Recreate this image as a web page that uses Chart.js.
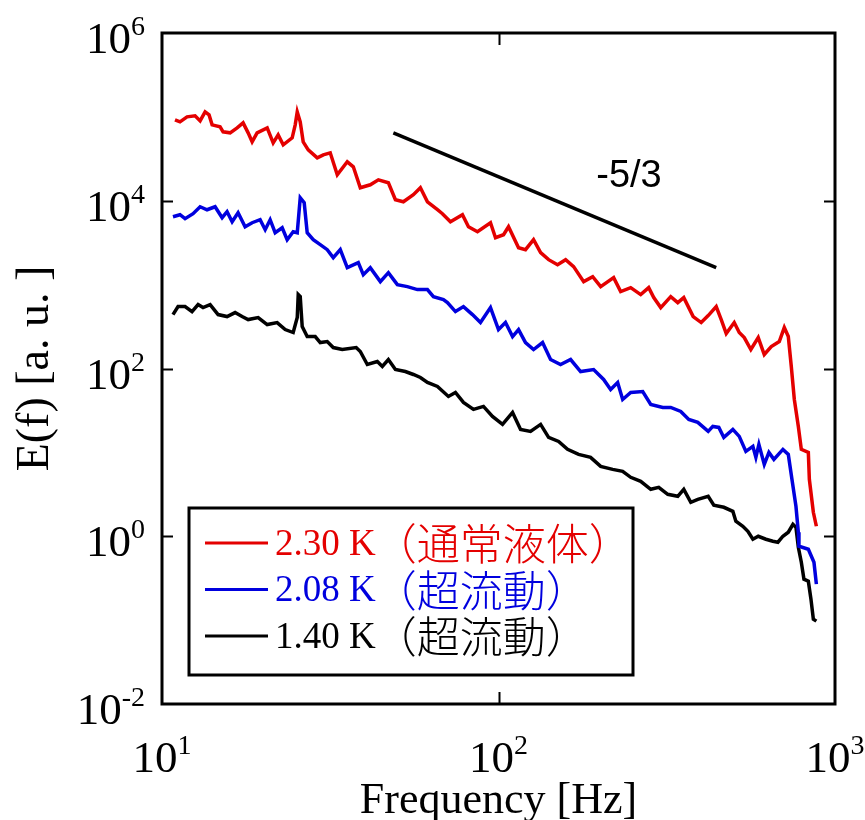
<!DOCTYPE html>
<html>
<head>
<meta charset="utf-8">
<script src="https://cdn.jsdelivr.net/npm/chart.js@4"></script>
<style>
  html, body { margin: 0; padding: 0; background: #fff; }
  #wrap { width: 865px; height: 820px; position: relative; }
</style>
</head>
<body>
<div id="wrap"><canvas id="c" width="865" height="820"></canvas></div>
<script>
// Power spectra E(f) of the velocity signal at three temperatures
const redLabel = '2.30 K（通常液体）';
const redFreq = [10.93, 11.31, 11.87, 12.54, 12.98, 13.43, 13.80, 14.09, 14.88, 15.19, 15.94, 16.72, 17.42, 18.03, 18.53, 19.17, 20.54, 21.40, 22.14, 22.92, 24.37, 24.88, 25.23, 25.75, 26.28, 27.20, 28.93, 30.15, 31.62, 33.18, 35.53, 37.03, 38.84, 41.59, 43.96, 47.07, 49.39, 52.17, 55.85, 58.60, 61.49, 65.86, 68.13, 71.97, 78.14, 81.42, 86.60, 94.67, 97.97, 103.5, 107.1, 114.7, 120.3, 127.1, 133.4, 140.9, 149.8, 158.3, 167.2, 179.1, 190.5, 201.2, 219.9, 230.7, 247.1, 264.6, 279.5, 289.3, 303.5, 325.0, 341.0, 355.3, 378.9, 400.3, 419.9, 443.6, 459.1, 475.1, 501.8, 519.3, 537.5, 562.3, 591.4, 616.3, 646.6, 683.0, 706.8, 726.5, 741.5, 757.1, 778.1, 794.2, 833.2, 839.0, 862.3, 880.3];
const redPower = [92100, 87190, 100000, 102800, 89610, 114700, 105600, 80310, 76020, 66290, 64490, 73970, 84830, 64490, 50400, 64490, 73970, 49030, 61050, 46420, 56230, 80310, 114700, 87190, 50400, 40470, 32500, 35290, 37280, 20390, 29130, 25400, 14280, 15500, 17780, 16380, 10280, 9729, 11790, 14280, 9729, 7813, 7002, 5623, 6813, 4903, 4275, 5471, 3627, 3938, 4903, 2757, 2610, 3433, 2404, 1984, 1730, 1984, 1638, 1086, 1245, 946.6, 1212, 825.4, 921.0, 760.2, 921.0, 700.2, 532.3, 719.7, 610.5, 700.2, 416.0, 352.9, 427.5, 547.1, 383.1, 261.0, 352.9, 268.3, 233.9, 168.3, 233.9, 146.8, 182.7, 209.6, 307.7, 240.4, 105.6, 42.75, 20.39, 10.86, 10.0, 4.771, 1.931, 1.316];

const blueLabel = '2.08 K（超流動）';
const blueFreq = [10.78, 11.31, 11.71, 12.37, 12.98, 13.61, 14.38, 15.09, 15.61, 16.16, 16.83, 17.66, 18.53, 19.57, 20.26, 20.96, 21.69, 22.76, 23.55, 24.54, 25.23, 25.75, 26.46, 27.01, 28.15, 29.53, 30.98, 32.28, 33.87, 35.53, 38.31, 39.65, 41.59, 44.55, 47.07, 50.05, 53.60, 57.40, 61.49, 64.06, 68.60, 70.51, 74.48, 78.68, 83.68, 88.40, 94.67, 100.0, 104.9, 110.1, 114.7, 120.3, 127.1, 135.2, 142.8, 152.9, 163.8, 175.4, 191.7, 205.3, 215.4, 226.0, 233.9, 247.1, 268.3, 283.4, 307.7, 325.0, 348.1, 367.7, 391.1, 419.9, 433.4, 451.6, 467.3, 497.1, 519.3, 543.4, 570.1, 581.9, 594.0, 616.3, 636.2, 658.3, 700.2, 726.5, 744.8, 765.5, 778.1, 781.4, 833.2, 865.9, 880.3];
const bluePower = [6449, 6813, 6105, 7002, 8483, 7813, 8483, 6275, 7397, 5623, 7197, 4903, 5471, 5940, 4516, 5940, 4160, 4771, 3433, 4275, 4160, 10860, 9466, 4160, 3433, 2994, 2610, 2096, 2610, 1593, 1827, 1316, 1593, 1086, 1389, 1000, 946.6, 871.9, 871.9, 719.7, 662.9, 610.5, 477.1, 547.1, 439.4, 352.9, 532.3, 291.3, 352.9, 240.4, 291.3, 203.9, 168.3, 203.9, 128.0, 111.6, 128.0, 92.10, 97.29, 73.97, 56.23, 68.13, 42.75, 51.79, 53.23, 37.28, 34.33, 34.33, 30.77, 24.71, 22.76, 17.78, 20.39, 19.84, 15.08, 18.78, 15.50, 10.28, 11.79, 8.719, 12.45, 7.197, 10.0, 8.254, 10.86, 9.466, 4.771, 2.276, 1.116, 0.7602, 0.7002, 0.4903, 0.2683];

const blackLabel = '1.40 K（超流動）';
const blackFreq = [10.78, 11.16, 11.71, 12.28, 12.80, 13.24, 13.90, 14.68, 15.61, 16.49, 17.30, 18.03, 19.31, 20.54, 21.99, 23.23, 24.54, 25.23, 25.40, 25.75, 26.10, 27.01, 28.53, 29.53, 30.98, 32.28, 34.33, 37.77, 38.84, 40.75, 43.64, 45.16, 47.07, 49.39, 52.87, 55.85, 58.60, 61.49, 65.86, 70.99, 74.48, 78.68, 84.26, 90.23, 95.96, 102.8, 110.1, 116.3, 124.5, 133.4, 140.9, 150.9, 160.4, 173.0, 187.8, 201.2, 218.4, 233.9, 247.1, 264.6, 283.4, 299.4, 318.4, 341.0, 355.3, 372.8, 391.1, 419.9, 436.4, 467.3, 497.1, 507.4, 532.3, 550.9, 570.1, 591.4, 623.2, 653.8, 676.6, 700.2, 726.5, 749.9, 765.5, 778.1, 794.2, 808.6, 833.2, 848.3, 862.3, 880.3];
const blackPower = [439.4, 547.1, 547.1, 477.1, 578.0, 532.3, 578.0, 439.4, 416.0, 464.2, 416.0, 383.1, 404.7, 334.1, 352.9, 291.3, 268.3, 404.7, 760.2, 719.7, 316.2, 240.4, 240.4, 203.9, 209.6, 177.8, 168.3, 177.8, 159.3, 111.6, 121.2, 105.6, 128.0, 97.29, 92.10, 84.83, 78.13, 68.13, 61.05, 46.42, 51.79, 39.38, 32.50, 35.29, 26.83, 21.54, 29.94, 18.78, 17.78, 21.54, 15.08, 13.52, 10.86, 9.466, 8.719, 6.813, 6.275, 5.940, 5.040, 4.516, 3.627, 3.831, 3.162, 2.994, 3.627, 2.540, 2.757, 2.994, 2.339, 2.214, 1.984, 1.508, 1.316, 1.147, 0.9210, 1.000, 0.9210, 0.8719, 0.8483, 1.000, 1.116, 1.389, 1.280, 0.7397, 0.4903, 0.3077, 0.2913, 0.1778, 0.1028, 0.09729];

// Kolmogorov -5/3 guide line
const slopeFreq = [48.70, 443.6];
const slopePower = [64490, 1593];
const slopeText = '-5/3';

// Axis decades
const xTickValues = [10, 100, 1000];
const xTickExponents = ['1', '2', '3'];
const yTickValues = [1e-2, 1, 1e2, 1e4, 1e6];
const yTickExponents = ['-2', '0', '2', '4', '6'];
const xTitle = 'Frequency [Hz]';
const yTitle = 'E(f) [a. u. ]';

const RED = 'rgb(228,0,0)';
const BLUE = 'rgb(0,0,222)';
const BLACK = '#000';
const SERIF = '"Liberation Serif", "Times New Roman", serif';
const CJK = '"Noto Sans CJK JP", sans-serif';

function points(fs, es) { return fs.map((f, i) => ({ x: f, y: es[i] })); }

function series(label, fs, es, color, width) {
  return {
    label, data: points(fs, es), borderColor: color, backgroundColor: color,
    borderWidth: width, pointRadius: 0, tension: 0, fill: false,
    borderJoinStyle: 'miter', borderCapStyle: 'butt'
  };
}

function drawPower(ctx, exp, x, yTick, mode) {
  const baseFont = '45px ' + SERIF;
  const expFont = '28px ' + SERIF;
  ctx.font = baseFont; const bw = ctx.measureText('10').width;
  ctx.font = expFont; const ew = ctx.measureText(exp).width;
  let start, baseY, expY;
  if (mode === 'y') { start = x - bw - ew; baseY = yTick + 20; expY = yTick + 2; }
  else { start = x - (bw + ew) / 2; baseY = yTick; expY = yTick - 18; }
  ctx.textAlign = 'left'; ctx.textBaseline = 'alphabetic';
  ctx.font = baseFont; ctx.fillText('10', start, baseY);
  ctx.font = expFont; ctx.fillText(exp, start + bw, expY);
}

const framePlugin = {
  id: 'frameAndLabels',
  afterDraw(chart) {
    const { ctx, chartArea: a, scales: { x, y } } = chart;
    ctx.save();
    ctx.fillStyle = '#000';
    ctx.strokeStyle = '#000';
    // plot frame
    ctx.lineWidth = 3;
    ctx.strokeRect(a.left, a.top, a.right - a.left, a.bottom - a.top);
    // inward ticks at interior decades
    ctx.lineWidth = 2;
    ctx.beginPath();
    xTickValues.forEach(v => {
      if (v <= x.min || v >= x.max) return;
      const px = Math.round(x.getPixelForValue(v)) + 0.5;
      ctx.moveTo(px, a.bottom); ctx.lineTo(px, a.bottom - 12);
      ctx.moveTo(px, a.top); ctx.lineTo(px, a.top + 12);
    });
    yTickValues.forEach(v => {
      if (v <= y.min || v >= y.max) return;
      const py = Math.round(y.getPixelForValue(v)) + 0.5;
      ctx.moveTo(a.left, py); ctx.lineTo(a.left + 11, py);
      ctx.moveTo(a.right, py); ctx.lineTo(a.right - 11, py);
    });
    ctx.stroke();
    // tick labels
    xTickValues.forEach((v, i) => drawPower(ctx, xTickExponents[i], x.getPixelForValue(v), 772, 'x'));
    yTickValues.forEach((v, i) => drawPower(ctx, yTickExponents[i], 145, y.getPixelForValue(v), 'y'));
    // axis titles
    ctx.font = '44px ' + SERIF;
    ctx.textAlign = 'center'; ctx.textBaseline = 'alphabetic';
    ctx.fillText(xTitle, (a.left + a.right) / 2, 813);
    ctx.save();
    ctx.translate(48, (a.top + a.bottom) / 2);
    ctx.rotate(-Math.PI / 2);
    ctx.font = '46px ' + SERIF;
    ctx.fillText(yTitle, 0, 0);
    ctx.restore();
    // slope label
    ctx.font = '38px "Liberation Sans", Arial, sans-serif';
    ctx.textAlign = 'center'; ctx.textBaseline = 'middle';
    ctx.fillText(slopeText, 629, 177);
    // legend
    const box = { l: 189, t: 508, r: 633, b: 675 };
    ctx.lineWidth = 3;
    ctx.strokeStyle = '#000';
    ctx.strokeRect(box.l, box.t, box.r - box.l, box.b - box.t);
    const rows = chart.data.datasets.slice(0, 3);
    ctx.textAlign = 'left'; ctx.textBaseline = 'middle';
    rows.forEach((ds, i) => {
      const ly = 543 + i * 46.5;
      ctx.strokeStyle = ds.borderColor; ctx.lineWidth = 3;
      ctx.beginPath(); ctx.moveTo(205, ly); ctx.lineTo(268, ly); ctx.stroke();
      ctx.fillStyle = ds.borderColor;
      const cut = ds.label.indexOf('（');
      const latin = ds.label.slice(0, cut);
      const cjk = ds.label.slice(cut);
      ctx.font = '37px ' + SERIF;
      ctx.fillText(latin, 275, ly + 2);
      const w = ctx.measureText(latin).width;
      ctx.font = '300 43px ' + CJK;
      ctx.fillText(cjk, 273 + w, ly + 1);
    });
    ctx.restore();
  }
};

new Chart(document.getElementById('c'), {
  type: 'line',
  data: {
    datasets: [
      series(redLabel, redFreq, redPower, RED, 3.5),
      series(blueLabel, blueFreq, bluePower, BLUE, 3.5),
      series(blackLabel, blackFreq, blackPower, BLACK, 3.5),
      series('slope', slopeFreq, slopePower, BLACK, 3.5)
    ]
  },
  options: {
    responsive: false,
    animation: false,
    events: [],
    layout: { padding: { left: 162, right: 30, top: 33, bottom: 116 } },
    plugins: { legend: { display: false }, tooltip: { enabled: false }, title: { display: false } },
    scales: {
      x: {
        type: 'logarithmic', min: 10, max: 1000,
        grid: { display: false, drawTicks: false }, border: { display: false },
        ticks: { display: false },
        afterFit(s) { s.height = 0; }
      },
      y: {
        type: 'logarithmic', min: 1e-2, max: 1e6,
        grid: { display: false, drawTicks: false }, border: { display: false },
        ticks: { display: false },
        afterFit(s) { s.width = 0; }
      }
    }
  },
  plugins: [framePlugin]
});
</script>
</body>
</html>
